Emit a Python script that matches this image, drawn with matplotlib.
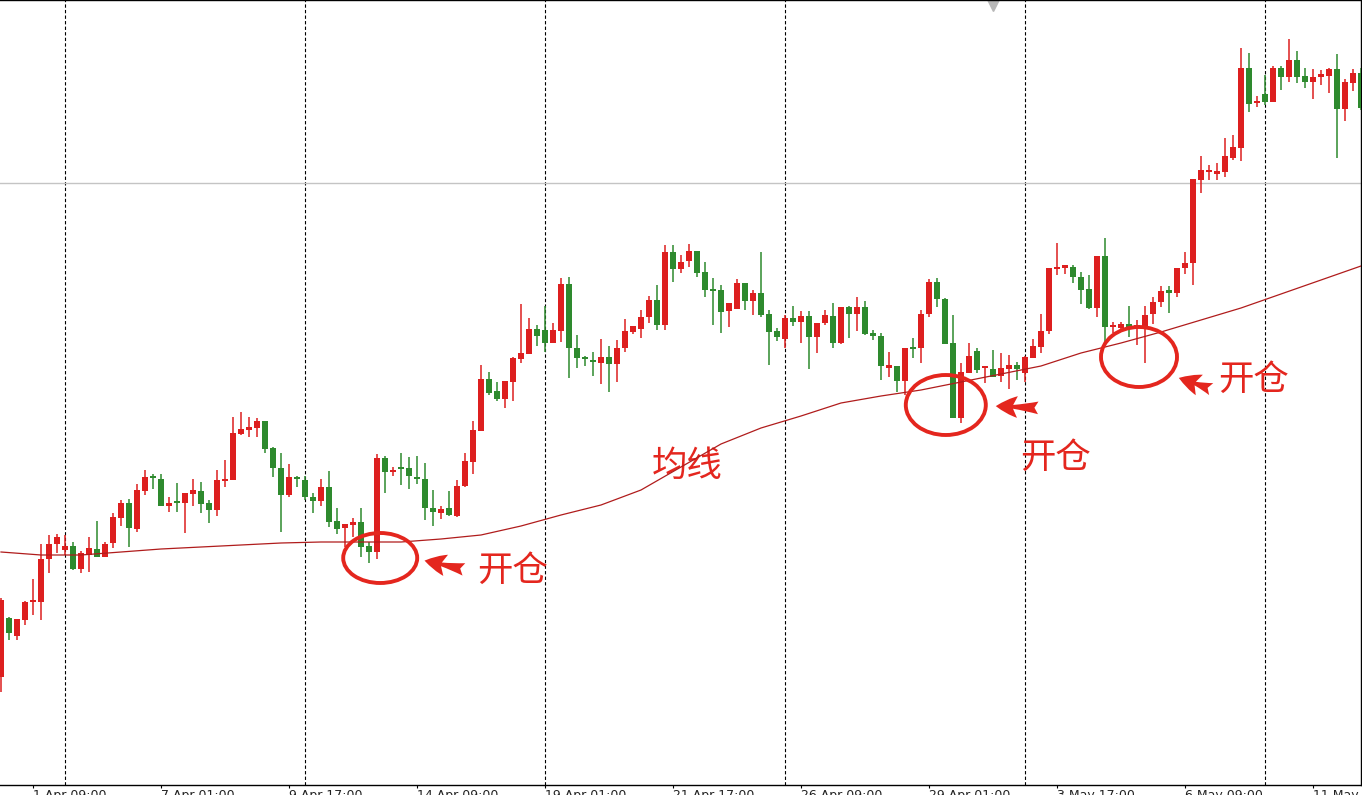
"""
Candlestick chart (H4 style) with a moving average and three hand drawn
entry marks (开仓) around the pullbacks to the average.
"""

import matplotlib
matplotlib.use("Agg")
import matplotlib.pyplot as plt
from matplotlib.patches import Ellipse, FancyArrowPatch
import numpy as np

# price data, one entry per bar (bar 0 is the left edge of the picture)
opens = [123, 182, 164, 180, 198, 198, 241, 256, 250, 254, 231, 245, 251, 243, 257, 282, 297, 271, 309, 323,
         321, 294, 298, 297, 306, 309, 297, 290, 319, 320, 366, 370, 372, 379, 352, 332, 305, 323, 320, 303,
         299, 313, 279, 272, 275, 278, 254, 248, 342, 328, 332, 332, 323, 321, 292, 287, 292, 284, 314, 338,
         369, 421, 409, 401, 418, 441, 446, 471, 470, 457, 469, 516, 452, 443, 440, 437, 443, 436, 452, 468,
         471, 483, 500, 475, 548, 531, 539, 549, 528, 511, 510, 489, 491, 517, 499, 507, 486, 469, 461, 482,
         478, 484, 463, 477, 484, 457, 493, 486, 493, 467, 464, 432, 434, 419, 453, 452, 486, 518, 501, 457,
         382, 427, 449, 432, 431, 424, 431, 435, 427, 442, 453, 469, 531, 532, 533, 523, 511, 492, 544, 473,
         472, 476, 473, 473, 486, 498, 510, 507, 532, 537, 620, 628, 626, 628, 642, 652, 732, 697, 706, 698,
         732, 723, 740, 724, 718, 723, 724, 731, 691, 717, 727]
highs = [202, 183, 181, 199, 221, 256, 265, 266, 265, 258, 249, 263, 279, 258, 287, 300, 301, 316, 330, 326,
         326, 303, 317, 307, 321, 318, 300, 330, 340, 383, 388, 383, 382, 379, 353, 347, 336, 324, 324, 307,
         321, 329, 292, 276, 282, 292, 258, 346, 344, 333, 347, 343, 344, 337, 310, 294, 309, 320, 347, 379,
         435, 428, 418, 419, 443, 496, 482, 475, 494, 477, 522, 523, 465, 444, 448, 461, 454, 460, 481, 474,
         490, 504, 515, 555, 555, 545, 556, 549, 538, 522, 515, 497, 521, 517, 510, 548, 490, 472, 485, 494,
         489, 489, 477, 490, 497, 493, 494, 503, 499, 470, 467, 448, 434, 452, 462, 490, 521, 522, 502, 485,
         437, 457, 452, 434, 450, 447, 445, 438, 444, 461, 486, 532, 557, 535, 535, 528, 525, 544, 562, 478,
         478, 494, 480, 494, 503, 514, 514, 532, 548, 621, 644, 635, 637, 662, 665, 752, 747, 704, 725, 734,
         734, 761, 749, 732, 731, 730, 732, 746, 721, 731, 732]
lows = [108, 160, 160, 175, 185, 180, 227, 247, 245, 230, 227, 228, 243, 243, 252, 274, 253, 268, 305, 311,
        294, 288, 288, 267, 294, 287, 277, 284, 313, 320, 365, 363, 363, 347, 323, 268, 303, 313, 300, 287,
        294, 273, 266, 253, 263, 243, 237, 241, 307, 324, 315, 311, 316, 280, 274, 281, 284, 283, 313, 326,
        369, 405, 399, 392, 399, 437, 446, 454, 448, 457, 458, 422, 432, 434, 424, 416, 408, 418, 448, 466,
        462, 477, 470, 470, 518, 527, 533, 523, 503, 475, 467, 473, 491, 490, 485, 483, 435, 459, 452, 474,
        457, 431, 447, 475, 452, 456, 462, 469, 465, 460, 420, 423, 408, 405, 442, 437, 483, 493, 456, 382,
        377, 427, 427, 417, 423, 418, 411, 420, 418, 442, 447, 466, 525, 526, 517, 496, 491, 483, 457, 467,
        468, 463, 455, 437, 476, 493, 487, 503, 526, 515, 607, 620, 620, 623, 640, 639, 688, 693, 695, 698,
        710, 718, 717, 712, 701, 715, 707, 642, 679, 709, 690]
closes = [200, 167, 181, 198, 199, 241, 256, 263, 254, 231, 247, 252, 243, 256, 283, 297, 272, 310, 323, 322,
          294, 297, 297, 307, 310, 296, 290, 320, 321, 367, 371, 373, 379, 351, 332, 305, 323, 321, 303, 299,
          313, 278, 271, 276, 278, 253, 248, 342, 328, 330, 331, 324, 321, 292, 288, 291, 285, 314, 339, 370,
          421, 407, 401, 419, 442, 447, 471, 464, 457, 470, 516, 452, 442, 441, 438, 443, 436, 452, 469, 474,
          483, 500, 475, 548, 531, 538, 549, 527, 510, 509, 488, 497, 517, 499, 507, 485, 468, 463, 482, 478,
          484, 463, 477, 485, 457, 493, 486, 493, 466, 464, 434, 435, 419, 452, 451, 486, 518, 501, 456, 382,
          428, 444, 430, 433, 423, 432, 435, 431, 443, 454, 469, 532, 532, 535, 523, 510, 492, 544, 473, 474,
          476, 473, 474, 485, 498, 509, 507, 532, 537, 621, 630, 630, 629, 644, 653, 732, 696, 698, 698, 732,
          723, 740, 723, 718, 723, 726, 731, 691, 718, 727, 692]

# moving average, read every 5 bars
ma_bars = list(range(0, 171, 5))
ma_values = [248, 245, 245, 248, 251, 253, 255, 257, 258, 258, 258, 261, 265, 274, 285, 295, 310, 333,
             356, 372, 384, 397, 404, 410, 418, 426, 434, 447, 457, 468, 480, 492, 506, 520, 534]

tick_bars = [4, 20, 36, 52, 68, 84, 100, 116, 132, 148, 164]
tick_labels = ['1 Apr 09:00', '7 Apr 01:00', '9 Apr 17:00', '14 Apr 09:00', '19 Apr 01:00',
               '21 Apr 17:00', '26 Apr 09:00', '29 Apr 01:00', '3 May 17:00', '6 May 09:00',
               '11 May 01:00']
grid_bars = [8, 38, 68, 98, 128, 158]
level_price = 617

UP = '#dd1f1f'
DOWN = '#2e8a2e'
MA_COLOR = '#b01c1c'
MARK = '#e4261e'
CJK = ['Noto Sans CJK SC', 'DejaVu Sans']


def plot_candles(ax, o, h, l, c):
    """
    Draws wicks and bodies of the candles.
    red = close above open, green = close below open
    """
    o, h, l, c = map(np.asarray, (o, h, l, c))
    x = np.arange(len(o))
    colors = np.where(c >= o, UP, DOWN)
    ax.vlines(x, l, h, colors=colors, linewidth=1.1, zorder=3)
    body = np.maximum(np.abs(c - o), 1.8)
    ax.bar(x, body, bottom=np.minimum(o, c), width=0.7, color=colors, linewidth=0, zorder=4)


def mark_entry(ax, center, size, arrow_from, arrow_to, text_pos):
    """
    Adds a red circle round the entry bars, an arrow and the 开仓 label.
    """
    ax.add_patch(Ellipse(center, size[0], size[1], fill=False, ec=MARK, lw=2.8, zorder=6))
    ax.add_patch(FancyArrowPatch(arrow_from, arrow_to,
                                 arrowstyle='fancy,head_length=0.6,head_width=0.6,tail_width=0.35',
                                 mutation_scale=26, color=MARK, lw=0, zorder=6))
    ax.text(text_pos[0], text_pos[1], '开仓', fontsize=25.5, color=MARK, family=CJK,
            ha='left', va='center', zorder=6)


fig = plt.figure(figsize=(13.62, 7.95), dpi=100)
ax = fig.add_axes([0, 10 / 795, 1361 / 1362, 785 / 795])

ax.set_xlim(-0.125, 170)
ax.set_ylim(15, 800)

for b in grid_bars:
    ax.axvline(b, color='black', lw=0.8, ls=(0, (3, 2)), zorder=1)
ax.axhline(level_price, color='#c4c4c4', lw=1, zorder=1)

plot_candles(ax, opens, highs, lows, closes)
ax.plot(ma_bars, ma_values, color=MA_COLOR, lw=0.9, zorder=5)

# chart shift marker at the top
ax.plot([124], [796], marker='v', ms=10, color='#b8b8b8', zorder=2)

mark_entry(ax, (47.4, 242), (9.25, 50), (58.2, 230), (52.6, 240), (59.5, 229))
mark_entry(ax, (118.1, 395), (10.0, 60), (130.0, 392), (124.0, 394), (127.4, 342))
mark_entry(ax, (142.25, 443), (9.5, 60), (151.6, 410), (146.9, 423), (152.1, 420))
ax.text(81.4, 334, '均线', fontsize=25.5, color=MARK, family=CJK, ha='left', va='center', zorder=4.5)

ax.set_xticks(tick_bars)
ax.set_xticklabels(tick_labels, ha='left', fontsize=9, color='#222222')
ax.set_yticks([])
ax.tick_params(axis='x', direction='out', length=2.5, width=0.8, pad=0.5)
ax.spines['left'].set_visible(False)
for side in ('top', 'right', 'bottom'):
    ax.spines[side].set_color('black')
    ax.spines[side].set_linewidth(1)

fig.savefig('out.png', dpi=100)
